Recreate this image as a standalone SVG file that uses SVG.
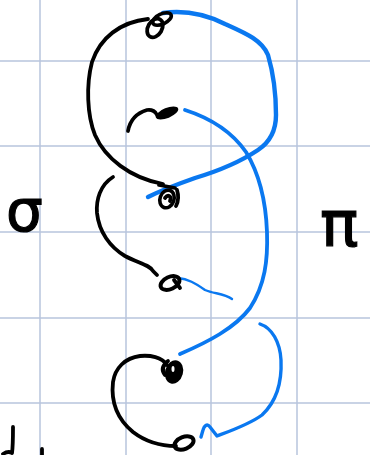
<svg xmlns="http://www.w3.org/2000/svg" width="370" height="455" viewBox="0 0 370 455">
<style>
.grid{stroke:#b7c5dc;stroke-width:1.5}
.ink{fill:none;stroke:#000;stroke-width:3.8;stroke-linecap:round;stroke-linejoin:round}
.blue{fill:none;stroke:#0a78f0;stroke-linecap:round;stroke-linejoin:round}
.glyph{font-family:"DejaVu Sans",sans-serif;fill:#000;stroke:#000;stroke-width:1.2}
</style>
<rect width="370" height="455" fill="#fff"/>
<g id="grid">
<line class="grid" x1="40" y1="0" x2="40" y2="455"/>
<line class="grid" x1="126" y1="0" x2="126" y2="455"/>
<line class="grid" x1="211" y1="0" x2="211" y2="455"/>
<line class="grid" x1="297" y1="0" x2="297" y2="455"/>
<line class="grid" x1="0" y1="61" x2="370" y2="61"/>
<line class="grid" x1="0" y1="146" x2="370" y2="146"/>
<line class="grid" x1="0" y1="232" x2="370" y2="232"/>
<line class="grid" x1="0" y1="318" x2="370" y2="318"/>
<line class="grid" x1="0" y1="403" x2="370" y2="403"/>
</g>
<g id="connectors">
<path class="ink" d="M148,19 C120,22 100,38 92,62 C86,85 87,115 95,135 C105,158 130,178 163,184"/>
<path class="ink" d="M128,131 C130,120 137,113 147,110 C152,109 156,112 157,115"/>
<path class="ink" d="M113,177 C100,185 96,200 97,213 C99,232 110,247 125,256 C138,263 150,265 153,271 L157,275"/>
<path class="ink" d="M167,365 C162,357 150,355 140,356 C125,358 115,368 113,382 C111,400 116,418 133,432 C146,442 160,446 176,446"/>
<path class="blue" stroke-width="4.4" d="M163,13 C185,10 205,14 225,24 C245,33 262,40 268,55 C273,72 276,95 276,115 C276,130 270,142 258,150 C240,162 215,172 195,178 C178,184 162,190 148,197"/>
<path class="blue" stroke-width="3.8" d="M185,110 C210,118 232,132 246,152 C260,175 266,205 267,232 C268,260 265,285 250,308 C235,328 208,342 180,354"/>
<path class="blue" stroke-width="2.4" d="M178,278 C188,279 195,283 205,290 C214,294 224,293 232,299"/>
<path class="blue" stroke-width="3.4" d="M260,324 C272,328 280,342 281,360 C282,382 276,402 262,415 C250,424 233,430 217,436 L210,427 C207,423 204,426 203,430 L201,437"/>
</g>
<g id="n1">
<ellipse cx="155" cy="28" rx="7" ry="10" transform="rotate(30 155 28)" fill="none" stroke="#000" stroke-width="3.8"/>
<ellipse cx="162" cy="19" rx="10" ry="5" transform="rotate(-25 162 19)" fill="none" stroke="#000" stroke-width="3.6"/>
</g>
<g id="n2">
<ellipse cx="167" cy="113" rx="12" ry="5" transform="rotate(-22 167 113)" fill="#000"/>
</g>
<g id="n3">
<ellipse cx="167" cy="199" rx="7" ry="9" transform="rotate(20 167 199)" fill="none" stroke="#000" stroke-width="3.6"/>
<path class="ink" d="M165,198 C168,194 172,196 170,201 M159,185 L175,188 M177,190 C179,196 178,202 176,206"/>
</g>
<g id="n4">
<ellipse cx="170" cy="283" rx="10" ry="6" transform="rotate(-25 170 283)" fill="none" stroke="#000" stroke-width="4"/>
<path class="ink" d="M174,280 L180,288"/>
</g>
<g id="n5">
<ellipse cx="174" cy="372" rx="9" ry="12" transform="rotate(15 174 372)" fill="#000"/>
<path class="ink" d="M168,361 C163,365 161,370 165,375"/>
<ellipse cx="173" cy="369" rx="1.5" ry="3" fill="#fff"/>
</g>
<g id="n6">
<ellipse cx="184" cy="443" rx="10" ry="6" transform="rotate(-22 184 443)" fill="none" stroke="#000" stroke-width="4"/>
<ellipse cx="185" cy="443" rx="3" ry="1.5" transform="rotate(-22 185 443)" fill="#fff"/>
</g>
<g id="labels">
<text class="glyph" x="6" y="231" font-size="58">σ</text>
<text class="glyph" x="320" y="246" font-size="64">π</text>
<path class="ink" d="M13,427 C13,437 13,446 12,453 M12,453 C9,451 6,452 3,454"/>
<path class="ink" d="M42,449 L42,455"/>
</g>
</svg>
